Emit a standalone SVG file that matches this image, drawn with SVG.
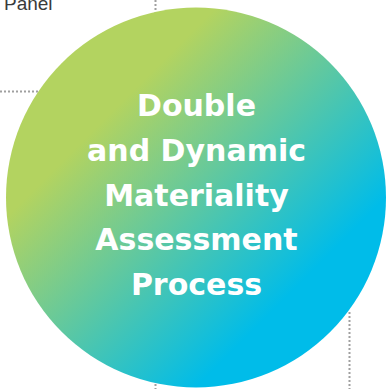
<svg xmlns="http://www.w3.org/2000/svg" width="387" height="389" viewBox="0 0 387 389">
<defs>
<linearGradient id="g" gradientUnits="userSpaceOnUse" x1="112" y1="112" x2="292" y2="292">
<stop offset="0" stop-color="#b3d360"/>
<stop offset="1" stop-color="#00bce9"/>
</linearGradient>
<style>
.dot{fill:none;stroke:#a0a0a0;stroke-width:2;stroke-dasharray:2 2}
.lbl{font-family:"Liberation Sans",Arial,sans-serif;font-size:19px;fill:#3a3a3a}
.title{font-family:"DejaVu Sans",Verdana,sans-serif;font-weight:bold;font-size:30px;fill:#ffffff;text-anchor:middle}
</style>
</defs>
<g id="connectors">
<line class="dot" x1="155.5" y1="0" x2="155.5" y2="14"/>
<line class="dot" x1="0" y1="91.5" x2="40" y2="91.5"/>
<line class="dot" x1="349.5" y1="312" x2="349.5" y2="389"/>
<line class="dot" x1="155.5" y1="384" x2="155.5" y2="389"/>
</g>
<g id="panel-label">
<text class="lbl" x="4" y="9.5">Panel</text>
</g>
<g id="process">
<circle cx="196" cy="197.5" r="190" fill="url(#g)"/>
<text class="title" x="196.5" y="116">Double</text>
<text class="title" x="196.5" y="161">and Dynamic</text>
<text class="title" x="196.5" y="205.5">Materiality</text>
<text class="title" x="196.5" y="250">Assessment</text>
<text class="title" x="196.5" y="295">Process</text>
</g>
</svg>
